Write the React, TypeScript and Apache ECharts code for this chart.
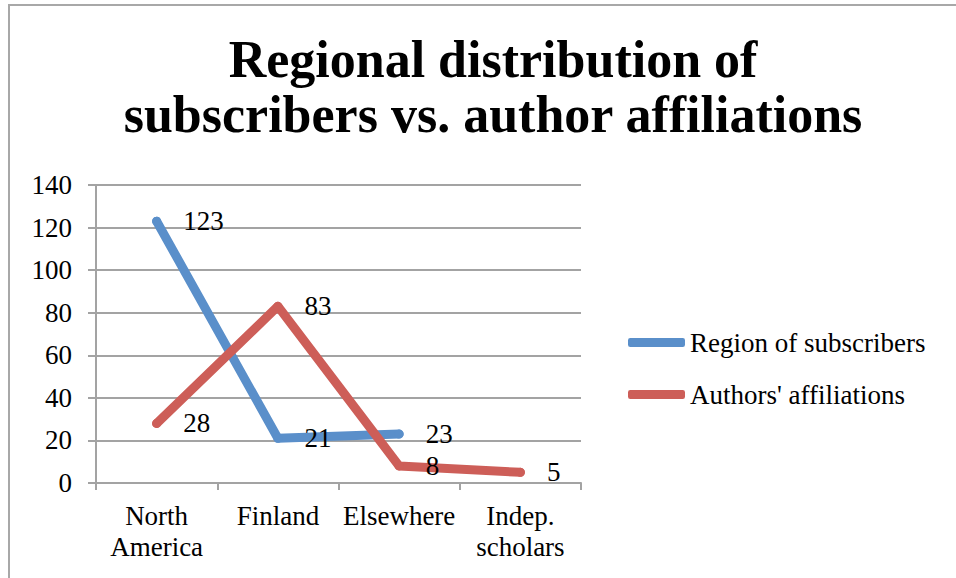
import React, { useEffect, useRef } from "react";
import * as echarts from "echarts";

const categories = ["North\nAmerica", "Finland", "Elsewhere", "Indep.\nscholars"];
const subscribers = [123, 21, 23, null];
const affiliations = [28, 83, 8, 5];
const seriesNames = ["Region of subscribers", "Authors' affiliations"];
const titleText = "Regional distribution of\nsubscribers vs. author affiliations";

const FONT = "'Liberation Serif', 'DejaVu Serif', serif";
const BLUE = "#5A8FCA";
const RED = "#CD5E58";
const GRID = "#A3A3A3";
const FS = 27;

export default function App() {
  const ref = useRef<HTMLDivElement>(null);
  useEffect(() => {
    if (!ref.current) return;
    const chart = echarts.init(ref.current, undefined, { renderer: "svg" });
    const label = {
      show: true,
      position: "right" as const,
      distance: 22,
      color: "#000",
      fontSize: FS,
      fontFamily: FONT,
    };
    chart.setOption({
      animation: false,
      backgroundColor: "#fff",
      graphic: [
        {
          type: "rect",
          z: -10,
          shape: { x: 9, y: 5, width: 1000, height: 700 },
          style: { fill: "none", stroke: "#A8A8A8", lineWidth: 2 },
        },
      ],
      title: {
        text: titleText,
        left: 488,
        top: 27,
        textAlign: "center",
        textStyle: {
          fontFamily: FONT,
          fontWeight: "bold",
          fontSize: 52,
          lineHeight: 55,
          color: "#000",
        },
      },
      legend: {
        orient: "vertical",
        left: 628,
        top: 329,
        padding: 0,
        itemWidth: 57,
        itemHeight: 9,
        itemGap: 25,
        icon: "roundRect",
        textStyle: { fontFamily: FONT, fontSize: FS, color: "#000", lineHeight: 26 },
        data: seriesNames,
      },
      grid: { left: 96, right: 375, top: 185, bottom: 95, containLabel: false },
      xAxis: {
        type: "category",
        data: categories,
        boundaryGap: true,
        axisLine: { lineStyle: { color: GRID, width: 2 } },
        axisTick: { show: true, length: 7, lineStyle: { color: GRID, width: 2 } },
        axisLabel: {
          interval: 0,
          color: "#000",
          fontFamily: FONT,
          fontSize: FS,
          lineHeight: 31,
          margin: 17,
        },
      },
      yAxis: {
        type: "value",
        min: 0,
        max: 140,
        interval: 20,
        axisLine: { show: true, lineStyle: { color: GRID, width: 2 } },
        axisTick: { show: true, length: 8, lineStyle: { color: GRID, width: 2 } },
        splitLine: { lineStyle: { color: GRID, width: 2 } },
        axisLabel: { color: "#000", fontFamily: FONT, fontSize: FS, margin: 24 },
      },
      series: [
        {
          name: seriesNames[0],
          type: "line",
          data: subscribers,
          symbol: "circle",
          symbolSize: 9,
          color: BLUE,
          itemStyle: { color: BLUE },
          lineStyle: { color: BLUE, width: 9, cap: "round", join: "round" },
          label,
        },
        {
          name: seriesNames[1],
          type: "line",
          data: affiliations,
          symbol: "circle",
          symbolSize: 9,
          color: RED,
          itemStyle: { color: RED },
          lineStyle: { color: RED, width: 9, cap: "round", join: "round" },
          label,
        },
      ],
    });
    return () => chart.dispose();
  }, []);
  return (
    <div
      ref={ref}
      style={{ position: "absolute", left: 0, top: 0, width: 956, height: 578 }}
    />
  );
}
